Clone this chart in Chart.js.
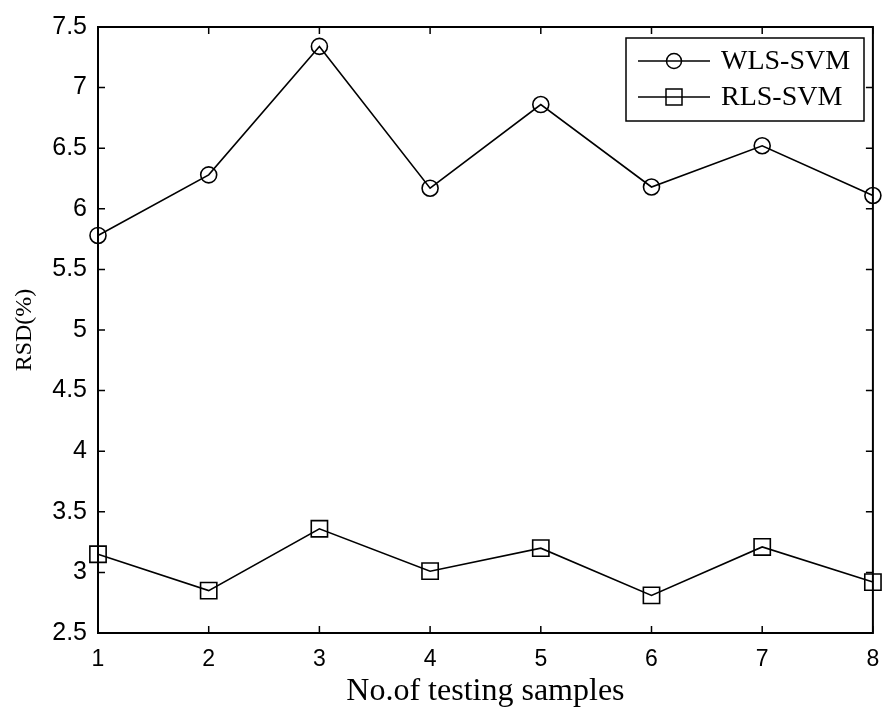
<!DOCTYPE html>
<html>
<head>
<meta charset="utf-8">
<script src="https://cdn.jsdelivr.net/npm/chart.js@4.4.0/dist/chart.umd.min.js"></script>
<style>
html,body{margin:0;padding:0;background:#fff;}
#c{display:block;}
</style>
</head>
<body>
<canvas id="c" width="886" height="711"></canvas>
<script>
const categories = ['1','2','3','4','5','6','7','8'];
const wlsSvm = [5.78, 6.28, 7.34, 6.17, 6.86, 6.18, 6.52, 6.11];
const rlsSvm = [3.15, 2.85, 3.36, 3.01, 3.20, 2.81, 3.21, 2.92];
const yTicks = [2.5, 3, 3.5, 4, 4.5, 5, 5.5, 6, 6.5, 7, 7.5];
const seriesNames = ['WLS-SVM', 'RLS-SVM'];

const PLOT_LEFT = 98, PLOT_RIGHT = 875, PLOT_TOP = 27, PLOT_BOTTOM = 633;
const W = 886, H = 711;

const boxPlugin = {
  id: 'matlabBox',
  afterDraw(chart) {
    const ctx = chart.ctx;
    const a = chart.chartArea;
    const xs = chart.scales.x, ys = chart.scales.y;
    ctx.save();
    ctx.strokeStyle = '#000';
    ctx.lineWidth = 2;
    ctx.strokeRect(a.left, a.top, a.right - a.left, a.bottom - a.top);
    ctx.lineWidth = 1.5;
    const tl = 7;
    ctx.beginPath();
    for (let i = 0; i < categories.length; i++) {
      const px = xs.getPixelForValue(i);
      ctx.moveTo(px, a.bottom); ctx.lineTo(px, a.bottom - tl);
      ctx.moveTo(px, a.top); ctx.lineTo(px, a.top + tl);
    }
    yTicks.forEach(v => {
      const py = ys.getPixelForValue(v);
      ctx.moveTo(a.left, py); ctx.lineTo(a.left + tl, py);
      ctx.moveTo(a.right, py); ctx.lineTo(a.right - tl, py);
    });
    ctx.stroke();

    // legend
    const lx = 626, ly = 38, lw = 238, lh = 83;
    ctx.fillStyle = '#fff';
    ctx.fillRect(lx, ly, lw, lh);
    ctx.lineWidth = 1.5;
    ctx.strokeRect(lx, ly, lw, lh);
    const rows = [61, 97];
    chart.data.datasets.forEach((ds, i) => {
      const y = rows[i];
      ctx.beginPath();
      ctx.lineWidth = 1.5;
      ctx.moveTo(638, y); ctx.lineTo(710, y);
      ctx.stroke();
      ctx.beginPath();
      if (ds.pointStyle === 'circle') {
        ctx.arc(674, y, 7.5, 0, Math.PI * 2);
      } else {
        ctx.rect(674 - 8, y - 8, 16, 16);
      }
      ctx.stroke();
      ctx.fillStyle = '#000';
      ctx.font = '28px "Liberation Serif", "Times New Roman", serif';
      ctx.textBaseline = 'middle';
      ctx.textAlign = 'left';
      ctx.fillText(ds.label, 721, y + 1);
    });
    ctx.restore();
  }
};

new Chart(document.getElementById('c'), {
  type: 'line',
  data: {
    labels: categories,
    datasets: [
      {
        label: seriesNames[0],
        data: wlsSvm,
        borderColor: '#000',
        borderWidth: 1.6,
        backgroundColor: 'rgba(0,0,0,0)',
        pointStyle: 'circle',
        pointRadius: 8,
        pointBorderWidth: 1.6,
        pointBorderColor: '#000',
        pointBackgroundColor: 'rgba(0,0,0,0)',
        tension: 0,
        clip: false
      },
      {
        label: seriesNames[1],
        data: rlsSvm,
        borderColor: '#000',
        borderWidth: 1.6,
        backgroundColor: 'rgba(0,0,0,0)',
        pointStyle: 'rect',
        pointRadius: 11.5,
        pointBorderWidth: 1.6,
        pointBorderColor: '#000',
        pointBackgroundColor: 'rgba(0,0,0,0)',
        tension: 0,
        clip: false
      }
    ]
  },
  options: {
    responsive: false,
    animation: false,
    devicePixelRatio: 1,
    layout: { padding: { left: 0, right: W - PLOT_RIGHT, top: PLOT_TOP, bottom: 0 } },
    plugins: { legend: { display: false }, tooltip: { enabled: false } },
    scales: {
      x: {
        type: 'category',
        offset: false,
        grid: { display: false, drawTicks: false },
        border: { display: false },
        ticks: {
          color: '#000',
          padding: 13,
          maxRotation: 0,
          font: { family: '"Liberation Sans", Arial, sans-serif', size: 23 }
        },
        title: {
          display: true,
          text: 'No.of testing samples',
          color: '#000',
          padding: { top: 2, bottom: 0 },
          font: { family: '"Liberation Serif", "Times New Roman", serif', size: 32 }
        },
        afterFit(scale) {
          scale.height = H - PLOT_BOTTOM;
          scale.paddingLeft = 0;
          scale.paddingRight = 0;
        }
      },
      y: {
        type: 'linear',
        min: 2.5,
        max: 7.5,
        afterBuildTicks(scale) { scale.ticks = yTicks.map(v => ({ value: v })); },
        grid: { display: false, drawTicks: false },
        border: { display: false },
        ticks: {
          color: '#000',
          padding: 11,
          callback: v => String(v),
          font: { family: '"Liberation Sans", Arial, sans-serif', size: 25 }
        },
        title: {
          display: true,
          text: 'RSD(%)',
          color: '#000',
          padding: { top: 10, bottom: 0 },
          font: { family: '"Liberation Serif", "Times New Roman", serif', size: 24 }
        },
        afterFit(scale) {
          scale.width = PLOT_LEFT;
          scale.paddingTop = 0;
          scale.paddingBottom = 0;
        }
      }
    }
  },
  plugins: [boxPlugin]
});
</script>
</body>
</html>
